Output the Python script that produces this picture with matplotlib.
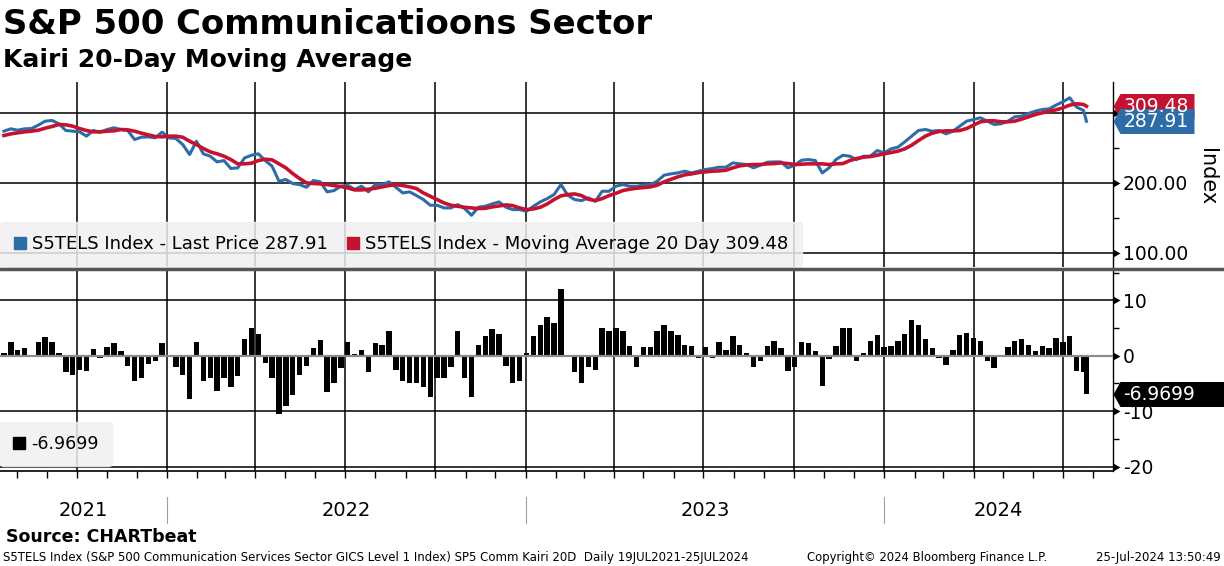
import matplotlib
matplotlib.use("Agg")
import matplotlib.pyplot as plt
import matplotlib.dates as mdates
from matplotlib.lines import Line2D
from matplotlib.ticker import MultipleLocator
import pandas as pd

# weekly readings, plus the last print on 25 Jul 2024
dates = list(pd.date_range("2021-07-19", periods=158, freq="7D")) + [pd.Timestamp("2024-07-25")]

price = [
    273.8, 277.2, 275.2, 277.2, 277.6, 282.4, 288.1, 289.1, 284.3, 274.8,
    273.8, 272.9, 266.7, 274.8, 272.4, 276.2, 278.6, 276.2, 274.8, 261.9,
    265.3, 265.7, 264.3, 272.4, 264.3, 263.4, 254.8, 240.5, 259.5, 241.5,
    238.1, 230.0, 231.9, 220.5, 221.5, 235.7, 239.5, 241.5, 231.9, 223.8,
    202.4, 204.8, 199.1, 197.6, 193.8, 203.4, 201.5, 187.2, 189.1, 195.3,
    196.7, 190.5, 195.3, 187.2, 197.6, 197.6, 201.5, 193.8, 185.7, 187.2,
    181.9, 176.2, 168.1, 168.1, 164.3, 164.3, 169.0, 163.4, 153.8, 165.3,
    166.7, 170.0, 172.9, 165.3, 161.9, 161.9, 159.5, 166.7, 172.9, 177.6,
    183.4, 197.6, 182.4, 176.2, 174.8, 178.6, 173.8, 188.1, 188.1, 195.3,
    197.6, 195.3, 195.3, 196.7, 197.6, 202.4, 211.0, 212.9, 214.3, 216.7,
    214.3, 216.7, 219.1, 220.5, 222.4, 222.4, 228.6, 227.2, 226.2, 221.5,
    225.3, 229.5, 230.0, 230.0, 221.5, 225.3, 232.4, 233.3, 231.9, 214.3,
    221.5, 233.3, 239.5, 238.1, 233.3, 238.1, 238.1, 246.2, 242.9, 248.6,
    251.0, 258.6, 266.7, 274.8, 276.2, 273.8, 274.8, 270.0, 273.8, 281.0,
    288.1, 290.5, 292.9, 288.1, 283.4, 284.3, 288.1, 294.3, 295.3, 299.1,
    302.4, 304.8, 305.7, 311.0, 315.7, 321.5, 308.1, 303.4, 287.91,
]

ma20 = [
    267.6, 270.0, 271.4, 272.9, 273.8, 275.2, 278.1, 280.5, 283.4, 282.9,
    281.0, 277.6, 274.8, 272.9, 272.9, 273.8, 274.3, 276.2, 275.7, 273.8,
    271.0, 268.6, 266.2, 265.7, 266.7, 266.7, 265.2, 259.5, 254.8, 249.1,
    244.3, 241.5, 238.1, 233.3, 227.2, 227.2, 228.1, 231.9, 233.8, 232.9,
    227.2, 221.5, 213.3, 206.2, 200.0, 199.1, 198.6, 197.6, 196.2, 194.8,
    192.9, 190.0, 190.0, 191.0, 192.4, 194.3, 196.2, 197.6, 196.2, 194.3,
    191.9, 185.7, 181.0, 176.2, 171.4, 168.1, 166.7, 165.2, 164.3, 163.4,
    163.8, 165.7, 167.1, 168.6, 167.6, 164.3, 161.9, 162.9, 165.2, 170.0,
    176.2, 181.5, 183.4, 184.3, 181.9, 176.7, 174.8, 177.6, 181.9, 185.2,
    189.1, 191.0, 192.4, 193.4, 194.3, 196.7, 201.5, 205.2, 208.6, 211.5,
    212.9, 214.8, 215.7, 216.7, 217.2, 218.1, 221.5, 224.3, 225.7, 226.2,
    226.2, 227.2, 227.6, 228.6, 227.6, 226.2, 226.7, 227.2, 227.2, 227.2,
    226.2, 227.2, 227.6, 231.9, 234.8, 236.7, 237.6, 239.5, 241.5, 243.4,
    245.3, 248.6, 253.8, 260.5, 266.7, 271.0, 273.4, 274.3, 274.3, 274.8,
    277.6, 282.4, 287.2, 288.6, 288.6, 287.2, 287.2, 288.1, 291.0, 294.3,
    297.6, 300.0, 302.4, 304.3, 307.2, 311.0, 312.9, 311.9, 309.48,
]

kairi = [
    0.5, 2.5, 1.1, 1.4, -0.3, 2.4, 3.3, 2.4, 0.5, -3.0,
    -3.4, -2.5, -2.8, 1.3, -0.4, 1.6, 2.3, 0.8, -1.8, -4.5,
    -4.0, -1.4, -1.0, 2.3, 0.2, -2.0, -3.4, -7.8, 2.5, -4.5,
    -4.0, -6.3, -4.0, -5.7, -3.7, 3.0, 5.0, 4.0, -1.3, -4.0,
    -10.5, -9.0, -7.0, -3.5, -1.9, 1.4, 2.8, -6.6, -5.0, -2.2,
    2.5, 0.3, 1.0, -3.0, 2.3, 2.0, 4.5, -2.5, -4.5, -5.0,
    -5.0, -5.7, -7.5, -4.0, -4.0, -2.0, 4.5, -4.0, -7.5, 2.0,
    3.5, 4.8, 4.0, -1.9, -5.0, -4.5, 0.5, 3.5, 5.5, 7.0,
    6.0, 12.0, 0.2, -3.0, -5.0, -2.0, -2.5, 5.0, 4.5, 5.0,
    4.5, 1.7, -2.0, 1.5, 1.5, 4.4, 5.5, 4.4, 3.8, 2.0,
    1.7, -0.4, 1.5, -0.4, 2.5, 1.0, 3.5, 2.0, 0.5, -2.0,
    -1.0, 1.7, 2.6, 1.4, -2.7, -2.0, 2.5, 2.3, 0.8, -5.5,
    -0.5, 1.7, 5.0, 5.0, -1.0, 0.5, 2.6, 3.8, 1.5, 1.7,
    2.6, 4.0, 6.5, 5.5, 3.0, 1.4, -0.4, -1.6, 1.0, 3.8,
    4.1, 3.2, 2.6, -1.0, -2.2, 0.2, 1.5, 2.6, 3.1, 2.0,
    0.8, 1.8, 1.4, 3.2, 2.5, 3.5, -2.8, -3.0, -6.9699,
]

price_ticks = [100, 200, 300]
price_tick_labels = ["100.00", "200.00", ""]  # 300.00 sits under the value tags
kairi_ticks = [-20, -10, 0, 10]
kairi_tick_labels = ["-20", "-10", "0", "10"]
years = [2021, 2022, 2023, 2024]

BLUE = "#2e6ca8"
RED = "#c41230"

plt.rcParams["font.family"] = ["DejaVu Sans"]

W, H = 1224, 566
fig = plt.figure(figsize=(W / 100, H / 100), dpi=100)


def frame(x0, y0, x1, y1):
    # pixel box (top-left origin) -> figure fraction
    return [x0 / W, 1 - y1 / H, (x1 - x0) / W, (y1 - y0) / H]


ax1 = fig.add_axes(frame(0, 82, 1113, 267))
ax2 = fig.add_axes(frame(0, 271, 1113, 471), sharex=ax1)

# upper panel: price and 20 day average
ax1.plot(dates, price, color=BLUE, lw=2.2, zorder=3)
ax1.plot(dates, ma20, color=RED, lw=2.6, zorder=4)
ax1.set_ylim(80, 344)

# lower panel: Kairi bars
ax2.bar(dates, kairi, width=5.5, color="black", zorder=2)
ax2.axhline(0, color="#8c8c8c", lw=1.6, zorder=3)
ax2.set_ylim(-20.8, 15.3)

ax1.set_xlim(pd.Timestamp("2021-07-15"), pd.Timestamp("2024-08-21"))
ax1.xaxis.set_major_locator(mdates.MonthLocator(bymonth=[1, 4, 7, 10]))
ax1.xaxis.set_minor_locator(mdates.MonthLocator())

for ax, ticks, labels, minor in ((ax1, price_ticks, price_tick_labels, 50),
                                 (ax2, kairi_ticks, kairi_tick_labels, 5)):
    ax.set_axisbelow(True)
    ax.yaxis.tick_right()
    ax.set_yticks(ticks, labels=labels)
    ax.yaxis.set_minor_locator(MultipleLocator(minor))
    ax.grid(True, which="major", color="black", lw=1.1)
    ax.tick_params(axis="y", which="major", length=0, pad=7, labelsize=13.5)
    ax.tick_params(axis="y", which="minor", length=4, width=1, direction="out")
    for side in ("left", "top", "bottom"):
        ax.spines[side].set_visible(False)
    ax.spines["right"].set_linewidth(1)
    # little arrow heads on the spine at each labelled tick
    ax.plot([1.0] * len(ticks), ticks, transform=ax.get_yaxis_transform(),
            ls="none", marker=[(0, -4), (7, 0), (0, 4), (0, -4)], markersize=10,
            color="black", mec="none", clip_on=False, zorder=5)

ax1.tick_params(axis="x", which="both", length=0, labelbottom=False)
ax2.spines["bottom"].set_visible(True)
ax2.spines["bottom"].set_linewidth(1.2)
ax2.tick_params(axis="x", which="both", length=5, width=1, direction="out", labelbottom=False)


def tag(ax, value, text, color, width_px):
    shape = [(0, 0), (7, -12.5), (width_px, -12.5), (width_px, 12.5), (7, 12.5), (0, 0)]
    ax.plot([1.0], [value], transform=ax.get_yaxis_transform(), ls="none",
            marker=shape, markersize=2 * width_px * 0.72, color=color, mec="none",
            clip_on=False, zorder=8)
    ax.annotate(text, xy=(1.0, value), xycoords=ax.get_yaxis_transform(),
                xytext=(7.5, 0), textcoords="offset points", ha="left", va="center",
                color="white", fontsize=13.5, zorder=9, annotation_clip=False)


tag(ax1, ma20[-1], f"{ma20[-1]:.2f}", RED, 81)
tag(ax1, price[-1], f"{price[-1]:.2f}", BLUE, 81)
tag(ax2, kairi[-1], f"{kairi[-1]:.4f}", "black", 112)

# legends
h1 = [Line2D([], [], ls="none", marker="s", ms=8, color=BLUE),
      Line2D([], [], ls="none", marker="s", ms=8, color=RED)]
l1 = [f"S5TELS Index - Last Price {price[-1]:.2f}",
      f"S5TELS Index - Moving Average 20 Day {ma20[-1]:.2f}"]
ax1.legend(h1, l1, loc="lower left", bbox_to_anchor=(0, 0), ncol=2,
           fontsize=13, facecolor="#f0f0f0", edgecolor="#f0f0f0", framealpha=0.85,
           borderaxespad=0, handlelength=0.7, handletextpad=0.35,
           columnspacing=1.0, borderpad=0.75)
h2 = [Line2D([], [], ls="none", marker="s", ms=8, color="black")]
ax2.legend(h2, [f"{kairi[-1]:.4f}"], loc="lower left", bbox_to_anchor=(0, 0.025),
           fontsize=12.5, facecolor="#f0f0f0", edgecolor="#f0f0f0", framealpha=0.85,
           borderaxespad=0, handlelength=0.7, handletextpad=0.35, borderpad=0.75)

# year labels under the axis
x0, x1 = ax2.get_xlim()
for yr in years:
    lo = max(mdates.date2num(pd.Timestamp(f"{yr}-01-01")), x0)
    hi = min(mdates.date2num(pd.Timestamp(f"{yr + 1}-01-01")), x1)
    ax2.text((lo + hi) / 2, -0.2, str(yr), transform=ax2.get_xaxis_transform(),
             ha="center", va="center", fontsize=14)
    if yr > years[0]:
        ax2.plot([lo, lo], [-0.13, -0.26], transform=ax2.get_xaxis_transform(),
                 color="#a0a0a0", lw=0.8, clip_on=False)

# panel divider
fig.add_artist(Line2D([0, 1], [1 - 269 / H] * 2, color="#555555", lw=2.5,
                      transform=fig.transFigure))

fig.text(1207 / W, 1 - 177 / H, "Index", rotation=270, fontsize=15, ha="center", va="center")
fig.text(3 / W, 1 - 24 / H, "S&P 500 Communicatioons Sector", fontsize=24.4,
         fontweight="bold", va="center")
fig.text(3 / W, 1 - 60 / H, "Kairi 20-Day Moving Average", fontsize=18,
         fontweight="bold", va="center")
fig.text(6 / W, 1 - 537 / H, "Source: CHARTbeat", fontsize=12.5, fontweight="bold", va="center")
fig.text(3 / W, 1 - 557 / H,
         "S5TELS Index (S&P 500 Communication Services Sector GICS Level 1 Index) "
         "SP5 Comm Kairi 20D  Daily 19JUL2021-25JUL2024", fontsize=8.5, va="center")
fig.text(807 / W, 1 - 557 / H, "Copyright\u00a9 2024 Bloomberg Finance L.P.", fontsize=8.4,
         va="center")
fig.text(1221 / W, 1 - 557 / H, "25-Jul-2024 13:50:49", fontsize=8.5, ha="right", va="center")

fig.savefig("out.png", dpi=100)
